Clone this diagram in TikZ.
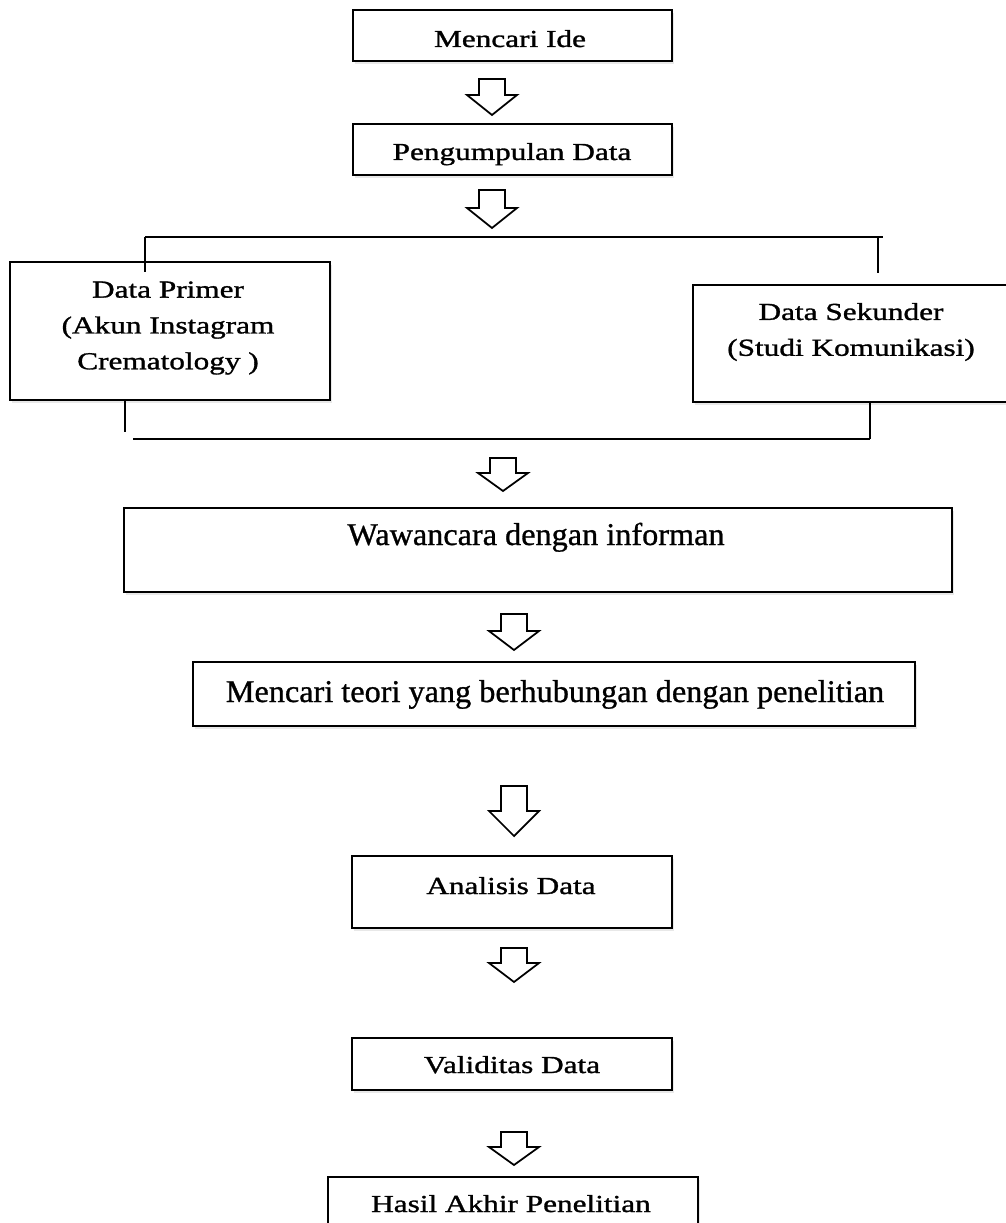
\documentclass[tikz,border=0pt]{standalone}
\usepackage{fontspec}
\newfontfamily\fa[FakeStretch=1.28, FakeBold=1.2]{Liberation Serif}
\newfontfamily\fb[FakeStretch=1.02, FakeBold=0.9]{Liberation Serif}
\usetikzlibrary{shadows}
\tikzset{
  box/.style={draw=black, line width=1.5pt, fill=white, rectangle, inner sep=0pt,
    drop shadow={shadow xshift=1.2pt, shadow yshift=-1.8pt, opacity=0.18}},
  ta/.style={font=\fa\fontsize{13.9}{20.4}\selectfont, align=center, text=black, inner sep=0pt},
  tb/.style={font=\fb\fontsize{18}{22}\selectfont, align=center, text=black, inner sep=0pt},
  con/.style={line width=1.3pt, black},
  blockarr/.style={draw=black, line width=1pt, fill=white, line join=miter},
}
\newcommand{\flowarrow}[4]{%
  \draw[blockarr] ({#1-13},#2) -- ({#1+13},#2) -- ({#1+13},#3) -- ({#1+25},#3)
    -- (#1,#4) -- ({#1-25},#3) -- ({#1-13},#3) -- cycle;}
\begin{document}
\begin{tikzpicture}[x=0.02cm, y=-0.02cm]
\useasboundingbox[fill=white] (0,0) rectangle (1006,1223);

% boxes
\node[box, minimum width=6.38cm, minimum height=1.02cm] (b1) at (512.5,35.5) {};
\node[box, minimum width=6.38cm, minimum height=1.02cm] (b2) at (512.5,149.5) {};
\node[box, minimum width=6.40cm, minimum height=2.76cm] (b3) at (170,331) {};
\node[box, minimum width=6.34cm, minimum height=2.34cm] (b4) at (851.5,343.5) {};
\node[box, minimum width=16.56cm, minimum height=1.68cm] (b5) at (538,550) {};
\node[box, minimum width=14.44cm, minimum height=1.28cm] (b6) at (554,694) {};
\node[box, minimum width=6.40cm, minimum height=1.44cm] (b7) at (512,892) {};
\node[box, minimum width=6.40cm, minimum height=1.04cm] (b8) at (512,1064) {};
\node[box, minimum width=7.40cm, minimum height=1.36cm] (b9) at (513,1211) {};

% texts
\node[ta, anchor=base] (t1) at (510,47) {Mencari Ide};
\node[ta, anchor=base] (t2) at (512,160) {Pengumpulan Data};
\node[ta] (t3) at (168,328) {Data Primer\\(Akun Instagram\\Crematology )};
\node[ta] (t4) at (851,332) {Data Sekunder\\(Studi Komunikasi)};
\node[tb, anchor=base] (t5) at (536,545) {Wawancara dengan informan};
\node[tb, anchor=base] (t6) at (555,702) {Mencari teori yang berhubungan dengan penelitian};
\node[ta, anchor=base] (t7) at (511,894) {Analisis Data};
\node[ta, anchor=base] (t8) at (512,1073) {Validitas Data};
\node[ta, anchor=base] (t9) at (511,1212) {Hasil Akhir Penelitian};

% bracket connectors
\coordinate (tl) at (145,237);
\coordinate (tr) at (883,237);
\coordinate (tlt) at (145,272);
\coordinate (trb) at (878,237);
\coordinate (trt) at (878,273);
\draw[con] (tl) -- (tr);
\draw[con] (tl) -- (tlt);
\draw[con] (trb) -- (trt);

\coordinate (bl1) at (b3.south -| 125,0);
\coordinate (bl2) at (125,432);
\coordinate (bh1) at (133,439);
\coordinate (bh2) at (870,439);
\coordinate (br1) at (b4.south -| 870,0);
\draw[con] (bl1) -- (bl2);
\draw[con] (bh1) -- (bh2);
\draw[con] (br1) -- (bh2);

% block arrows
\flowarrow{492}{79}{95}{115}
\flowarrow{492}{190}{208}{228}
\flowarrow{503}{458}{473}{491}
\flowarrow{514}{614}{631}{650}
\flowarrow{514}{786}{811}{836}
\flowarrow{514}{948}{963}{982}
\flowarrow{514}{1132}{1147}{1165}
\end{tikzpicture}
\end{document}
